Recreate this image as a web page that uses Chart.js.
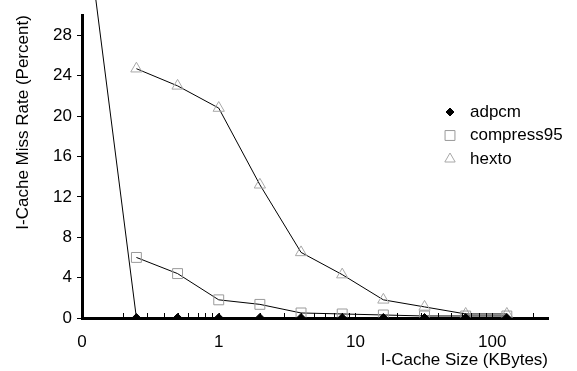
<!DOCTYPE html>
<html>
<head>
<meta charset="utf-8">
<script src="https://cdn.jsdelivr.net/npm/chart.js@4/dist/chart.umd.min.js"></script>
<style>
  html, body { margin: 0; padding: 0; background: #fff; }
  #wrap { width: 577px; height: 371px; position: relative; }
</style>
</head>
<body>
<div id="wrap"><canvas id="missChart"></canvas></div>
<script>
// I-cache miss rate vs cache size (KBytes)
const cacheSizes = [0.125, 0.25, 0.5, 1, 2, 4, 8, 16, 32, 64, 128];
const adpcm      = [32, 0, 0, 0, 0, 0, 0, 0, 0, 0, 0];
const compress95 = [null, 6.0, 4.4, 1.8, 1.35, 0.5, 0.4, 0.3, 0.2, 0.2, 0.2];
const hexto      = [null, 24.7, 23.0, 20.8, 13.2, 6.5, 4.3, 1.8, 1.1, 0.4, 0.4];

const yTicks = [0, 4, 8, 12, 16, 20, 24, 28];
const xTickValues = [0.1, 0.2, 0.3, 0.4, 0.5, 0.6, 0.7, 0.8, 0.9,
                     1, 2, 3, 4, 5, 6, 7, 8, 9,
                     10, 20, 30, 40, 50, 60, 70, 80, 90,
                     100, 200];
const xMajorValues = [0.1, 1, 10, 100];
const xMajorLabels = ['0', '1', '10', '100'];

const FONT = '"Liberation Sans", Arial, sans-serif';

function toPoints(values) {
    return cacheSizes.map((x, i) => ({ x: x, y: values[i] })).filter(p => p.y !== null);
}

// short tick marks pointing up into the plot, like the original
const innerTicks = {
    id: 'innerTicks',
    afterDatasetsDraw(chart) {
        const xs = chart.scales.x;
        const ctx = chart.ctx;
        const bottom = chart.chartArea.bottom;
        ctx.save();
        ctx.strokeStyle = '#000';
        ctx.lineWidth = 1;
        xs.ticks.forEach(t => {
            const px = Math.round(xs.getPixelForValue(t.value)) + 0.5;
            ctx.beginPath();
            ctx.moveTo(px, bottom);
            ctx.lineTo(px, bottom - 5);
            ctx.stroke();
        });
        ctx.restore();
    }
};

// legend sitting inside the plot on the right
const cornerLegend = {
    id: 'cornerLegend',
    afterDraw(chart) {
        const ctx = chart.ctx;
        ctx.save();
        ctx.font = '17px ' + FONT;
        ctx.textBaseline = 'middle';
        chart.data.datasets.forEach((ds, i) => {
            const y = 112 + i * 23.5;
            ctx.lineWidth = 1;
            ctx.strokeStyle = ds.pointBorderColor;
            ctx.fillStyle = ds.pointBackgroundColor;
            Chart.helpers.drawPoint(ctx, {
                pointStyle: ds.pointStyle,
                radius: ds.legendRadius,
                rotation: 0,
                borderWidth: 1
            }, 450, y);
            ctx.fillStyle = '#000';
            ctx.fillText(ds.label, 470, y);
        });
        ctx.restore();
    }
};

const ctx = document.getElementById('missChart').getContext('2d');
new Chart(ctx, {
    type: 'line',
    data: {
        datasets: [{
            label: 'adpcm',
            data: toPoints(adpcm),
            borderColor: '#000',
            borderWidth: 1,
            pointStyle: 'rectRot',
            pointRadius: 4.5,
            legendRadius: 4,
            pointBackgroundColor: '#000',
            pointBorderColor: '#000',
            pointBorderWidth: 1,
            clip: { left: false, top: false, right: false, bottom: 0 }
        }, {
            label: 'compress95',
            data: toPoints(compress95),
            borderColor: '#000',
            borderWidth: 1,
            pointStyle: 'rect',
            pointRadius: 7,
            legendRadius: 7,
            pointBackgroundColor: 'rgba(0,0,0,0)',
            pointBorderColor: '#9a9a9a',
            pointBorderWidth: 1,
            clip: { left: false, top: false, right: false, bottom: 0 }
        }, {
            label: 'hexto',
            data: toPoints(hexto),
            borderColor: '#000',
            borderWidth: 1,
            pointStyle: 'triangle',
            pointRadius: 6.5,
            legendRadius: 6,
            pointBackgroundColor: 'rgba(0,0,0,0)',
            pointBorderColor: '#a8a8a8',
            pointBorderWidth: 1,
            clip: { left: false, top: false, right: false, bottom: 0 }
        }]
    },
    options: {
        responsive: true,
        maintainAspectRatio: false,
        animation: false,
        layout: {
            padding: { left: 0, top: 8, right: 29, bottom: 0 }
        },
        scales: {
            x: {
                type: 'logarithmic',
                min: 0.1,
                max: 256,
                afterBuildTicks: scale => {
                    scale.ticks = xTickValues.map(v => ({ value: v }));
                },
                afterFit: scale => { scale.height = 53; },
                border: { display: true, color: '#000', width: 3 },
                grid: { display: false },
                ticks: {
                    autoSkip: false,
                    maxRotation: 0,
                    padding: 6,
                    color: '#000',
                    font: { family: FONT, size: 17 },
                    callback: value => {
                        const k = xMajorValues.findIndex(m => Math.abs(m - value) < 1e-9);
                        return k >= 0 ? xMajorLabels[k] : '';
                    }
                },
                title: {
                    display: true,
                    text: 'I-Cache Size (KBytes)',
                    align: 'end',
                    color: '#000',
                    font: { family: FONT, size: 17 },
                    padding: { top: 2, bottom: 0 }
                }
            },
            y: {
                min: 0,
                max: 30,
                afterBuildTicks: scale => {
                    scale.ticks = yTicks.map(v => ({ value: v }));
                },
                afterFit: scale => { scale.width = 82; },
                border: { display: true, color: '#000', width: 3 },
                grid: {
                    display: true,
                    drawOnChartArea: false,
                    drawTicks: true,
                    tickLength: 5,
                    color: '#000',
                    lineWidth: 1
                },
                ticks: {
                    padding: 5,
                    color: '#000',
                    font: { family: FONT, size: 17 }
                },
                title: {
                    display: true,
                    text: 'I-Cache Miss Rate (Percent)',
                    align: 'end',
                    color: '#000',
                    font: { family: FONT, size: 17 },
                    padding: { top: 13, bottom: 0 }
                }
            }
        },
        plugins: {
            legend: { display: false },
            tooltip: { enabled: false }
        }
    },
    plugins: [innerTicks, cornerLegend]
});
</script>
</body>
</html>
